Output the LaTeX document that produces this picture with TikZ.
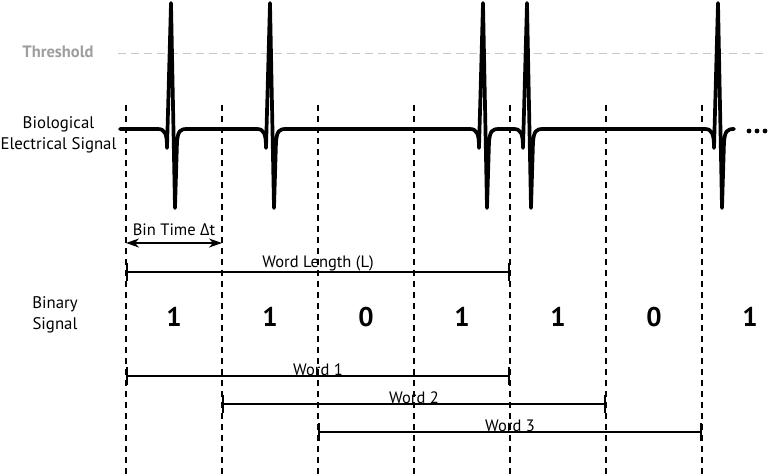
\documentclass[tikz,border=0pt]{standalone}
\usepackage{fontspec}
\setmainfont{PT Sans}
\newfontfamily\grkfont{Open Sans}
\usetikzlibrary{arrows.meta,calc}

\tikzset{
    bin/.style={line width=1.5pt,dash pattern=on 6pt off 5pt},
    span/.style={line width=1.2pt,{Bar[width=18pt,line width=2.4pt]}-{Bar[width=18pt,line width=2.4pt]}},
    lbl/.style={font=\fontsize{16.5}{20}\selectfont,inner sep=0pt},
    side/.style={font=\fontsize{16.8}{21}\selectfont,inner sep=0pt,align=center},
    bit/.style={font=\fontsize{27}{30}\selectfont\bfseries,inner sep=0pt},
    spikes/.style={line width=3.7pt,line join=round,line cap=round}
}

\begin{document}
\begin{tikzpicture}[x=1pt,y=-1pt]
            \useasboundingbox (0,0) rectangle (768,475);
            \foreach \i in {0,...,6}{
                \coordinate (t\i) at (126+96*\i,105);
                \coordinate (b\i) at (126+96*\i,475);
                \draw[bin] (t\i) -- (b\i);
            }
            \coordinate (th0) at (118,53);
            \coordinate (th1) at (768,53);
            \draw[black!22,line width=1pt,dash pattern=on 8pt off 5pt] (th0) -- (th1);
            \node[font=\fontsize{16.5}{18}\selectfont\bfseries,text=black!38,inner sep=0pt] (thr) at (58,52) {Threshold};
            \node[side] (bio) at (58.5,135) {Biological\\Electrical Signal};
            \node[side] (bsig) at (55,315) {Binary\\Signal};
            \draw[spikes] (120,129)
                \foreach \s in {171,270,483,527,718}{
                    -- (\s-13,129) .. controls (\s-6,129) and (\s-4,134) .. (\s-4,148)
                    -- (\s,3) -- (\s+4,208) -- (\s+6,142)
                    .. controls (\s+7,131) and (\s+9,129) .. (\s+16,129)
                };
            \foreach \x in {749,757,765}
                \fill (\x,131) circle (2.4pt);
            \coordinate (dt0) at (126,243);
            \coordinate (dt1) at (222,243);
            \draw[line width=1.3pt,{Stealth[length=13pt,width=9pt,inset=4pt]}-{Stealth[length=13pt,width=9pt,inset=4pt]}]
                (dt0) -- node[lbl,anchor=base,yshift=8pt] {Bin Time {\grkfont Δ}t} (dt1);
            \coordinate (wl0) at (126,272);
            \coordinate (wl1) at (510,272);
            \draw[span] (wl0) -- node[lbl,anchor=base,yshift=5pt] {Word Length (L)} (wl1);
            \foreach \b [count=\i from 0] in {1,1,0,1,1,0,1}
                \node[bit] (d\i) at (174+96*\i,317) {\b};
            \foreach \k/\y in {1/376,2/404,3/432}{
                \coordinate (w\k a) at (30+96*\k,\y);
                \coordinate (w\k b) at (414+96*\k,\y);
                \draw[span] (w\k a) -- node[lbl,anchor=base,yshift=1pt] {Word \k} (w\k b);
            }
\end{tikzpicture}
\end{document}
